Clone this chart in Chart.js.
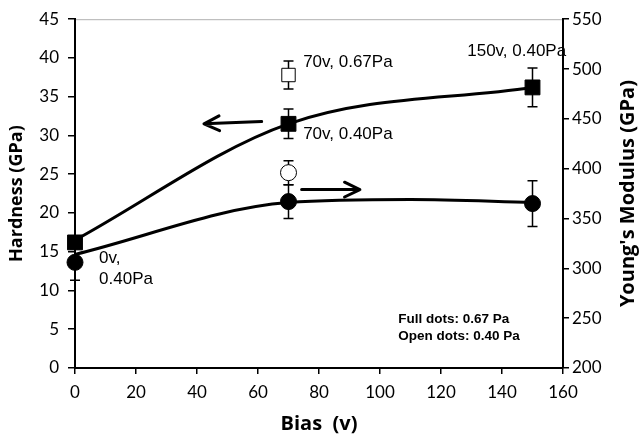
<!DOCTYPE html>
<html>
<head>
<meta charset="utf-8">
<script src="https://cdn.jsdelivr.net/npm/chart.js@4/dist/chart.umd.min.js"></script>
<style>
  body { margin: 0; background: #fff; }
  canvas { display: block; }
</style>
</head>
<body>
<canvas id="chart" width="639" height="439"></canvas>
<script>
// Bias voltages (v)
const bias = [0, 70, 150];

// Hardness (GPa), full dots, left axis
const hardness = [16.2, 31.5, 36.2];
const hardnessErr = [0.8, 1.9, 2.5];

// Young's modulus (GPa), full dots, right axis
const modulus = [306, 367, 365];
const modulusErr = [18, 17, 23];

// Open dots at 70 v
const openBias = [70];
const openHardness = [37.8];
const openHardnessErr = [1.8];
const openModulus = [396];
const openModulusErr = [12];

// Smoothed trend curves through the dots
const hardnessCurveX = [0, 70, 150];
const hardnessCurve = [16.5, 31.5, 36.2];
const modulusCurveX = [0, 70, 110, 150];
const modulusCurve = [314, 366, 369, 366];

// Tick ranges
const xTicks = { min: 0, max: 160, step: 20 };
const yTicks = { min: 0, max: 45, step: 5 };
const y2Ticks = { min: 200, max: 550, step: 50 };

// Point labels: [text, bias, hardness]
const pointLabels = [
  ["70v, 0.67Pa", 74.8, 39.4],
  ["70v, 0.40Pa", 74.8, 30.2],
  ["150v, 0.40Pa", 128.6, 40.9],
  ["0v,", 7.9, 14.2],
  ["0.40Pa", 7.9, 11.5]
];
const noteLines = [
  ["Full dots: 0.67 Pa", 106, 6.3],
  ["Open dots: 0.40 Pa", 106, 4.05]
];

// Arrows: [scale id, x tail, y tail, x tip, y tip]
const arrows = [
  ["y", 61.2, 31.8, 42.3, 31.5],
  ["y2", 74.3, 379, 93.4, 379]
];

const AXIS_FONT = { family: "Lato", size: 17 };
const TITLE_FONT = { family: "Open Sans", size: 18, weight: "bold" };

function xy(xs, ys) {
  return xs.map((x, i) => ({ x: x, y: ys[i] }));
}

// error bars drawn before the markers so open dots stay white inside
const errorBars = {
  id: "errorBars",
  beforeDatasetsDraw(chart) {
    const ctx = chart.ctx;
    const sx = chart.scales.x;
    const sets = [
      [chart.scales.y, bias, hardness, hardnessErr],
      [chart.scales.y2, bias, modulus, modulusErr],
      [chart.scales.y, openBias, openHardness, openHardnessErr],
      [chart.scales.y2, openBias, openModulus, openModulusErr]
    ];
    ctx.save();
    ctx.strokeStyle = "#000";
    ctx.lineWidth = 1.5;
    sets.forEach(([sy, xs, ys, es]) => {
      xs.forEach((x, i) => {
        const px = sx.getPixelForValue(x);
        const top = sy.getPixelForValue(ys[i] + es[i]);
        const bot = sy.getPixelForValue(ys[i] - es[i]);
        ctx.beginPath();
        ctx.moveTo(px, top); ctx.lineTo(px, bot);
        ctx.moveTo(px - 5, top); ctx.lineTo(px + 5, top);
        ctx.moveTo(px - 5, bot); ctx.lineTo(px + 5, bot);
        ctx.stroke();
      });
    });
    ctx.restore();
  }
};

// frame line, arrows, labels and the rotated right-hand title
const decorations = {
  id: "decorations",
  beforeDraw(chart) {
    const { ctx, chartArea } = chart;
    ctx.save();
    ctx.strokeStyle = "#b0b0b0";
    ctx.lineWidth = 1;
    ctx.beginPath();
    ctx.moveTo(chartArea.left, chartArea.top + 0.5);
    ctx.lineTo(chartArea.right, chartArea.top + 0.5);
    ctx.stroke();
    ctx.restore();
  },
  afterDatasetsDraw(chart) {
    const ctx = chart.ctx;
    const sx = chart.scales.x;
    const sy = chart.scales.y;
    ctx.save();

    ctx.strokeStyle = "#000";
    ctx.lineWidth = 3;
    ctx.lineCap = "round";
    ctx.lineJoin = "round";
    arrows.forEach(([id, x0, y0, x1, y1]) => {
      const s = chart.scales[id];
      const ax = sx.getPixelForValue(x0), ay = s.getPixelForValue(y0);
      const bx = sx.getPixelForValue(x1), by = s.getPixelForValue(y1);
      const ang = Math.atan2(by - ay, bx - ax);
      const len = 17, spread = 0.45;
      ctx.beginPath();
      ctx.moveTo(ax, ay); ctx.lineTo(bx, by);
      ctx.moveTo(bx - len * Math.cos(ang - spread), by - len * Math.sin(ang - spread));
      ctx.lineTo(bx, by);
      ctx.lineTo(bx - len * Math.cos(ang + spread), by - len * Math.sin(ang + spread));
      ctx.stroke();
    });

    ctx.fillStyle = "#000";
    ctx.textBaseline = "middle";
    ctx.textAlign = "left";
    ctx.font = "17px 'Liberation Sans', Arial, sans-serif";
    pointLabels.forEach(([t, x, y]) => {
      ctx.fillText(t, sx.getPixelForValue(x), sy.getPixelForValue(y));
    });
    ctx.font = "bold 13.5px 'Liberation Sans', Arial, sans-serif";
    noteLines.forEach(([t, x, y]) => {
      ctx.fillText(t, sx.getPixelForValue(x), sy.getPixelForValue(y));
    });

    // right axis title reads bottom to top
    const s2 = chart.scales.y2;
    ctx.translate(628, (s2.top + s2.bottom) / 2);
    ctx.rotate(-Math.PI / 2);
    ctx.textAlign = "center";
    ctx.font = "bold 20px 'Open Sans', sans-serif";
    ctx.fillText("Young's Modulus (GPa)", 0, 0);
    ctx.restore();
  }
};

function axisBase(ticks, tickLen, pad) {
  return {
    type: "linear",
    min: ticks.min,
    max: ticks.max,
    grid: { drawOnChartArea: false, drawTicks: true, tickLength: tickLen, color: "#000", lineWidth: 1.5 },
    border: { display: true, color: "#000", width: 2 },
    ticks: { stepSize: ticks.step, color: "#000", font: AXIS_FONT, padding: pad }
  };
}

const xAxis = axisBase(xTicks, 6, 8);
xAxis.title = { display: true, text: "Bias  (v)", color: "#000", font: { family: "Open Sans", size: 20, weight: "bold" }, padding: { top: 0, bottom: 3 } };
xAxis.afterFit = (s) => { s.height = 71; };

const yAxis = axisBase(yTicks, 7, 9);
yAxis.position = "left";
yAxis.title = { display: true, text: "Hardness (GPa)", color: "#000", font: TITLE_FONT, padding: { top: 6, bottom: 0 } };
yAxis.afterFit = (s) => { s.width = 75; };

const y2Axis = axisBase(y2Ticks, 6, 3);
y2Axis.position = "right";
y2Axis.afterFit = (s) => { s.width = 76; };

const markerBase = { showLine: false, clip: false, pointBorderColor: "#000", pointBorderWidth: 1 };

new Chart(document.getElementById("chart"), {
  type: "line",
  data: {
    datasets: [
      {
        label: "Hardness trend",
        data: xy(hardnessCurveX, hardnessCurve),
        yAxisID: "y",
        borderColor: "#000",
        borderWidth: 3,
        cubicInterpolationMode: "monotone",
        pointRadius: 0,
        clip: false
      },
      {
        label: "Modulus trend",
        data: xy(modulusCurveX, modulusCurve),
        yAxisID: "y2",
        borderColor: "#000",
        borderWidth: 3,
        cubicInterpolationMode: "monotone",
        pointRadius: 0,
        clip: false
      },
      Object.assign({
        label: "Hardness",
        data: xy(bias, hardness),
        yAxisID: "y",
        pointStyle: "rect",
        pointRadius: 10.5,
        pointBackgroundColor: "#000"
      }, markerBase),
      Object.assign({
        label: "Modulus",
        data: xy(bias, modulus),
        yAxisID: "y2",
        pointStyle: "circle",
        pointRadius: 8,
        pointBackgroundColor: "#000"
      }, markerBase),
      Object.assign({
        label: "Hardness open",
        data: xy(openBias, openHardness),
        yAxisID: "y",
        pointStyle: "rect",
        pointRadius: 9.5,
        pointBackgroundColor: "#fff"
      }, markerBase),
      Object.assign({
        label: "Modulus open",
        data: xy(openBias, openModulus),
        yAxisID: "y2",
        pointStyle: "circle",
        pointRadius: 8,
        pointBackgroundColor: "#fff"
      }, markerBase)
    ]
  },
  options: {
    responsive: false,
    animation: false,
    layout: { padding: { top: 12, right: 0, bottom: 0, left: 0 } },
    plugins: { legend: { display: false }, tooltip: { enabled: false } },
    scales: { x: xAxis, y: yAxis, y2: y2Axis }
  },
  plugins: [errorBars, decorations]
});
</script>
</body>
</html>
